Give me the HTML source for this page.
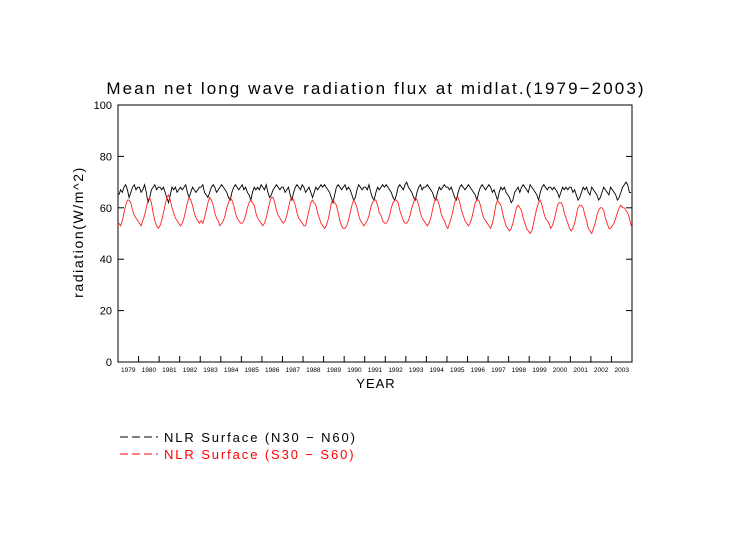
<!DOCTYPE html>
<html><head><meta charset="utf-8"><style>
body{margin:0;background:#fff;}
svg text{font-family:"Liberation Sans",sans-serif;}
</style></head><body>
<svg id="c" width="752" height="532" xmlns="http://www.w3.org/2000/svg">
<text x="376" y="94" font-size="17" text-anchor="middle" letter-spacing="2.1">Mean net long wave radiation flux at midlat.(1979−2003)</text>
<text transform="translate(83,232) rotate(-90)" font-size="14" letter-spacing="1.6" text-anchor="middle">radiation(W/m^2)</text>
<text x="376" y="388" font-size="13" letter-spacing="1" text-anchor="middle">YEAR</text>
<g id="axes"></g>
<g id="series"></g>
<g>
<line x1="120" y1="437" x2="158" y2="437" stroke="#000" stroke-dasharray="8,4"/>
<text x="164" y="442" font-size="13" letter-spacing="1.9">NLR Surface (N30 − N60)</text>
<line x1="120" y1="454" x2="158" y2="454" stroke="#f00" stroke-dasharray="8,4"/>
<text x="164" y="459" font-size="13" letter-spacing="1.9" fill="#f00">NLR Surface (S30 − S60)</text>
</g>
</svg>
<script>
const years=[1979,1980,1981,1982,1983,1984,1985,1986,1987,1988,1989,1990,1991,1992,1993,1994,1995,1996,1997,1998,1999,2000,2001,2002,2003];
const yTicks=[0,20,40,60,80,100];
const north=[
65,67,66,68,69,67,64,66,68,69,67,68,
68,66,67,69,66,62,64,67,68,69,67,68,
68,67,68,66,64,62,65,68,67,68,66,67,
68,67,68,69,66,64,66,68,67,66,67,68,
68,69,66,65,64,66,68,69,68,66,67,68,
69,68,67,66,64,63,66,68,69,68,67,68,
69,67,68,66,65,63,66,68,67,68,67,69,
68,67,69,66,64,65,67,68,69,68,67,68,
68,66,67,68,65,63,66,68,69,68,67,69,
68,66,67,68,66,64,66,68,67,68,69,68,
69,68,67,66,64,62,65,68,69,68,67,68,
69,67,68,67,65,63,64,67,69,68,67,68,
68,67,69,66,64,63,66,68,67,68,69,68,
69,68,67,66,64,63,65,68,69,68,67,69,
70,68,67,66,64,63,66,68,69,67,68,68,
69,68,67,66,64,63,66,68,67,68,69,68,
68,67,68,66,64,63,66,68,69,68,67,68,
69,68,67,66,65,63,66,68,69,68,67,68,
69,68,66,67,65,63,66,68,67,68,66,65,
64,62,63,66,67,68,66,68,69,68,67,66,
69,68,67,66,65,63,66,68,69,68,67,68,
68,67,68,67,66,64,66,68,67,68,67,68,
68,66,67,65,63,64,66,68,67,68,66,65,
68,67,66,65,63,64,66,68,67,66,65,68,
67,66,65,63,64,66,68,69,70,69,66,66];
const south=[
54,53,55,58,61,63,63,62,59,57,56,55,
54,53,55,57,60,63,64,62,58,55,53,52,
53,55,58,61,64,65,63,60,58,56,55,54,
53,54,56,59,62,64,63,61,58,56,55,54,
55,54,56,59,62,64,63,61,58,56,55,53,
54,55,57,60,62,64,63,61,58,56,55,54,
54,55,57,60,62,63,62,61,58,56,55,54,
53,54,56,59,62,64,64,62,59,57,56,55,
54,55,57,60,63,64,63,61,58,56,55,54,
53,53,56,59,62,63,62,61,58,56,54,53,
52,53,55,58,62,63,62,61,58,55,53,52,
52,53,55,58,61,63,62,60,57,55,54,53,
54,55,57,60,62,63,63,61,58,57,55,54,
54,55,57,60,62,63,63,62,59,57,55,54,
54,55,57,60,62,64,63,61,58,56,55,54,
53,54,56,59,62,64,63,61,58,56,55,53,
52,54,56,59,62,64,64,62,59,57,55,54,
53,54,56,59,62,63,63,61,58,56,55,54,
53,52,54,57,61,63,62,61,58,55,53,52,
51,52,54,57,60,61,60,59,56,54,52,51,
50,51,54,57,60,62,63,61,58,56,55,54,
52,53,55,58,61,62,62,61,58,56,54,52,
51,52,54,57,60,61,61,60,57,55,52,51,
50,52,54,57,59,60,60,59,56,54,52,52,
53,54,56,58,60,61,60,60,59,58,56,53];
const X0=118,X1=632,Y0=362,Y1=105;
const xScale=m=>X0+(m+0.5)*(X1-X0)/(years.length*12);
const yScale=v=>Y0-(v/100)*(Y0-Y1);
const NS="http://www.w3.org/2000/svg";
const axes=document.getElementById('axes'),ser=document.getElementById('series');
function mk(tag,attrs,parent){const e=document.createElementNS(NS,tag);for(const k in attrs)e.setAttribute(k,attrs[k]);parent.appendChild(e);return e;}
const frame=mk('rect',{x:X0,y:Y1,width:X1-X0,height:Y0-Y1,fill:'none',stroke:'#000','stroke-width':1},axes);


yTicks.forEach(t=>{const y=yScale(t);
 const l=mk('line',{x1:X0,y1:y,x2:X0+6,y2:y,stroke:'#000'},axes);
 
 
 const r=mk('line',{x1:X1-6,y1:y,x2:X1,y2:y,stroke:'#000'},axes);
 
 
 const tx=mk('text',{x:X0-6,y:y+4,'font-size':11,'text-anchor':'end'},axes);tx.textContent=t;
 
 
});
const yw=(X1-X0)/years.length;
years.forEach((yr,i)=>{
 if(i>0){const x=X0+i*yw;const l=mk('line',{x1:x,y1:Y0,x2:x,y2:Y0-6,stroke:'#000'},axes);
 
 }
 const tx=mk('text',{x:X0+(i+0.5)*yw,y:Y0+10,'font-size':6.5,'text-anchor':'middle'},axes);tx.textContent=yr;
 
 
});
function line(arr,color,name){const p=mk('polyline',{points:arr.map((v,i)=>xScale(i).toFixed(1)+','+yScale(v).toFixed(1)).join(' '),fill:'none',stroke:color,'stroke-width':0.9},ser);
 
 }
line(north,'#000','series-north');
line(south,'#f22','series-south');
</script>
</body></html>
